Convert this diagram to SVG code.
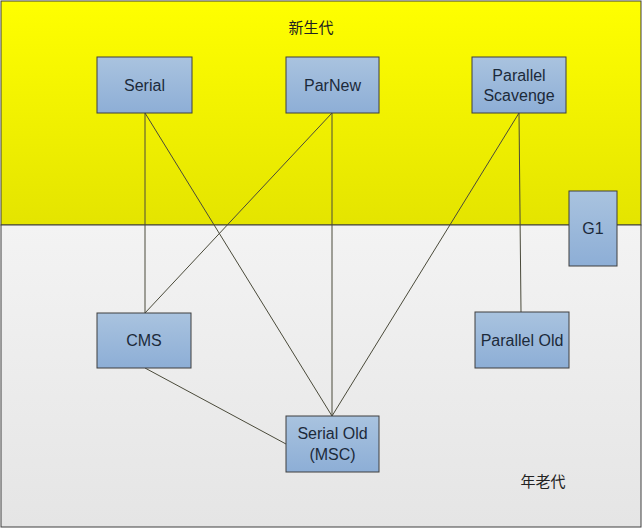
<svg xmlns="http://www.w3.org/2000/svg" width="644" height="530" viewBox="0 0 644 530">
  <style>
    .box { stroke: #3f3f3f; stroke-width: 1; fill: url(#boxGrad); }
    .lbl { font-family: "Liberation Sans", "Noto Sans", sans-serif; font-size: 16px; fill: #1c2a3a; text-anchor: middle; }
    .zone { font-family: "Noto Sans CJK SC", sans-serif; font-size: 15px; fill: #222; text-anchor: middle; }
    .conn line { stroke: #4a4a3a; stroke-width: 1; }
  </style>
  <defs>
    <linearGradient id="boxGrad" x1="0" y1="0" x2="0" y2="1">
      <stop offset="0" stop-color="#a9c3df"/>
      <stop offset="1" stop-color="#8daed6"/>
    </linearGradient>
    <linearGradient id="yellowGrad" x1="0" y1="0" x2="0" y2="1">
      <stop offset="0" stop-color="#ffff00"/>
      <stop offset="1" stop-color="#e4e400"/>
    </linearGradient>
    <linearGradient id="grayGrad" x1="0" y1="0" x2="0" y2="1">
      <stop offset="0" stop-color="#f3f3f3"/>
      <stop offset="1" stop-color="#e5e5e5"/>
    </linearGradient>
  </defs>
  <rect x="0" y="0" width="644" height="530" fill="#ffffff"/>
  <g id="young">
    <rect x="1" y="1" width="640" height="224" fill="url(#yellowGrad)" stroke="#3f3f3f" stroke-width="1"/>
    <text class="zone" x="311" y="33">新生代</text>
  </g>
  <g id="old">
    <rect x="1" y="225" width="640" height="302" fill="url(#grayGrad)" stroke="#3f3f3f" stroke-width="1"/>
    <text class="zone" x="543" y="487">年老代</text>
  </g>
  <g class="conn" id="connectors">
    <line x1="145" y1="113" x2="145" y2="313"/>
    <line x1="145" y1="113" x2="332" y2="416"/>
    <line x1="332" y1="113" x2="145" y2="313"/>
    <line x1="332" y1="113" x2="332" y2="416"/>
    <line x1="519" y1="113" x2="332" y2="416"/>
    <line x1="519" y1="113" x2="521" y2="312"/>
    <line x1="145" y1="368" x2="286" y2="444"/>
  </g>
  <g id="serial">
    <rect class="box" x="97" y="57" width="95" height="56"/>
    <text class="lbl" x="144.5" y="91">Serial</text>
  </g>
  <g id="parnew">
    <rect class="box" x="286" y="57" width="93" height="56"/>
    <text class="lbl" x="332.5" y="91">ParNew</text>
  </g>
  <g id="parallel-scavenge">
    <rect class="box" x="472" y="57" width="94" height="56"/>
    <text class="lbl" x="519" y="81">Parallel</text>
    <text class="lbl" x="519" y="101">Scavenge</text>
  </g>
  <g id="g1">
    <rect class="box" x="569" y="191" width="48" height="75"/>
    <text class="lbl" x="593" y="234">G1</text>
  </g>
  <g id="cms">
    <rect class="box" x="97" y="313" width="94" height="55"/>
    <text class="lbl" x="144" y="346">CMS</text>
  </g>
  <g id="parallel-old">
    <rect class="box" x="475" y="312" width="94" height="56"/>
    <text class="lbl" x="522" y="346">Parallel Old</text>
  </g>
  <g id="serial-old">
    <rect class="box" x="286" y="416" width="93" height="56"/>
    <text class="lbl" x="332.5" y="439">Serial Old</text>
    <text class="lbl" x="332.5" y="460">(MSC)</text>
  </g>
</svg>
